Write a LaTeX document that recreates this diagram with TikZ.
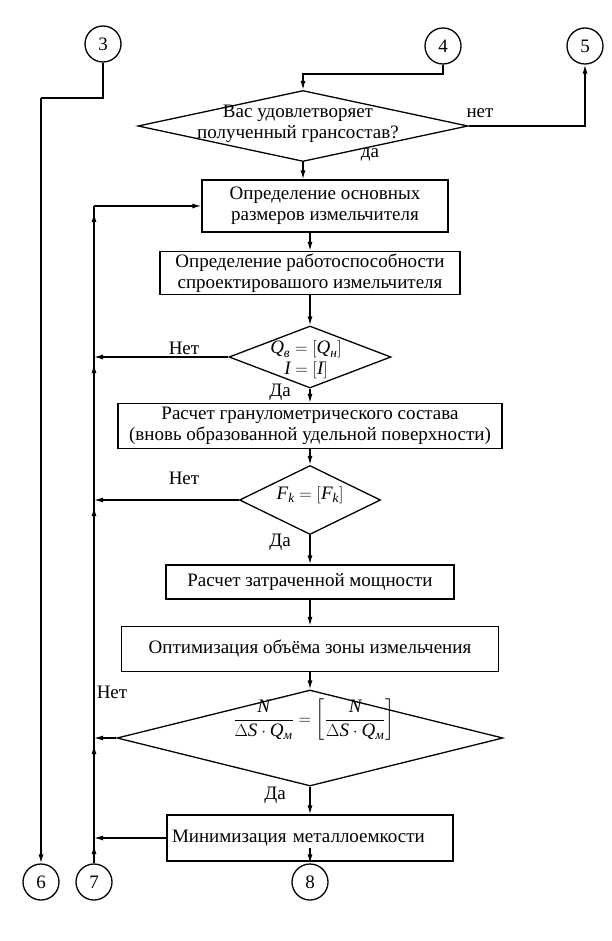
\documentclass[tikz,border=0pt]{standalone}
\usepackage{amsmath}
\usepackage{fontspec}
\setmainfont{Liberation Serif}
\usetikzlibrary{shapes.geometric,arrows.meta}
\tikzset{
  blok/.style={draw,inner sep=2pt,align=center},
  romb/.style={draw,diamond,inner sep=0pt},
  krug/.style={draw,circle,minimum size=36pt,inner sep=0pt},
  pil/.style={-{Latex[length=9pt,width=5pt]}},
}
\newcommand{\ii}[1]{\textit{#1}}

\begin{document}
\begin{tikzpicture}[x=1pt,y=-1pt,line width=1.3pt,font=\fontsize{19}{21}\selectfont]
	\useasboundingbox (0,0) rectangle (612,941);
	% соединители
	\node[krug] at (103,44)(k3){3};
	\node[krug] at (443,46)(k4){4};
	\node[krug] at (585,46)(k5){5};
	\node[krug] at (41,882)(k6){6};
	\node[krug] at (94,882)(k7){7};
	\node[krug] at (310,882)(k8){8};
	
	% блоки
	\node[romb,minimum width=330pt,minimum height=71pt] at (303,126)(r1){};
	\node[align=center] at (298,124){Вас удовлетворяет\\полученный грансостав?};
	\node[blok,minimum width=246pt,minimum height=52pt] at (325,206)(b1){Определение основных\\размеров измельчителя};
	\node[blok,minimum width=300pt,minimum height=43pt] at (310,273)(b2){Определение работоспособности\\спроектировашого измельчителя};
	\node[romb,minimum width=162pt,minimum height=62pt] at (310,357)(r2){};
	\node[align=center] at (306,360){$\ii{Q}_{\ii{в}}=[\ii{Q}_{\ii{н}}]$\\$\ii{I}=[\ii{I}]$};
	\node[blok,minimum width=384pt,minimum height=45pt] at (310,426)(b3){Расчет гранулометрического состава\\(вновь образованной удельной поверхности)};
	\node[romb,minimum width=141pt,minimum height=69pt] at (310,500)(r3){};
	\node at (310,495){$\ii{F}_{\ii{k}}=[\ii{F}_{\ii{k}}]$};
	\node[blok,minimum width=288pt,minimum height=34pt] at (310,582)(b4){Расчет затраченной мощности};
	\node[blok,minimum width=377pt,minimum height=45pt] at (310,649)(b5){Оптимизация объёма зоны измельчения};
	\node[romb,minimum width=386pt,minimum height=96pt] at (310,738)(r4){};
	\node at (314,720){$\dfrac{\ii{N}}{\Delta\ii{S}\cdot\ii{Q}_{\ii{м}}}=\left[\dfrac{\ii{N}}{\Delta\ii{S}\cdot\ii{Q}_{\ii{м}}}\right]$};
	\node[blok,minimum width=286pt,minimum height=46pt,text width=276pt,align=left] at (310,838)(b6){Минимизация металлоемкости};
	
	% ответы
	\node at (480,113){нет};
	\node at (370,155){да};
	\node at (184,348){Нет};
	\node at (280,392){Да};
	\node at (184,478){Нет};
	\node at (280,542){Да};
	\node at (112,692){Нет};
	\node at (275,795){Да};
	
	% линии
	\coordinate (a3) at (41,98);
	\coordinate (a4) at (303,74);
	\draw (k3) |- (a3);
	\draw[pil] (a3) -- (k6);
	\draw[pil] (k4) |- (a4) -- (r1);
	\draw[pil] (r1.east) -| (k5);
	\draw[pil] (r1.south) -- (r1.south |- b1.north);
	\draw[pil] (b1.south -| b2.north) -- (b2.north);
	\path[pil](b2)edge(r2)(r2)edge(b3)(b3)edge(r3)(r3)edge(b4)(b4)edge(b5)(b5)edge(r4)(r4)edge(b6);
	\draw[pil] ([yshift=14pt]b6.south) -- (k8);
	
	% возврат
	\coordinate (j1) at (b1.west -| k7);
	\coordinate (j2) at (r2.west -| k7);
	\coordinate (j3) at (r3.west -| k7);
	\coordinate (j4) at (r4.west -| k7);
	\coordinate (j5) at (b6.west -| k7);
	\draw (k7) -- (j1);
	\draw[pil] (j1) -- (b1.west);
	\path[pil](r2.west)edge(j2)(r3.west)edge(j3)(r4.west)edge(j4)(b6.west)edge(j5);
	\foreach \j in {j1,j2,j3,j4,j5}
		\draw[pil] ([yshift=-22pt]\j) -- ([yshift=-7pt]\j);
	
\end{tikzpicture}
\end{document}
